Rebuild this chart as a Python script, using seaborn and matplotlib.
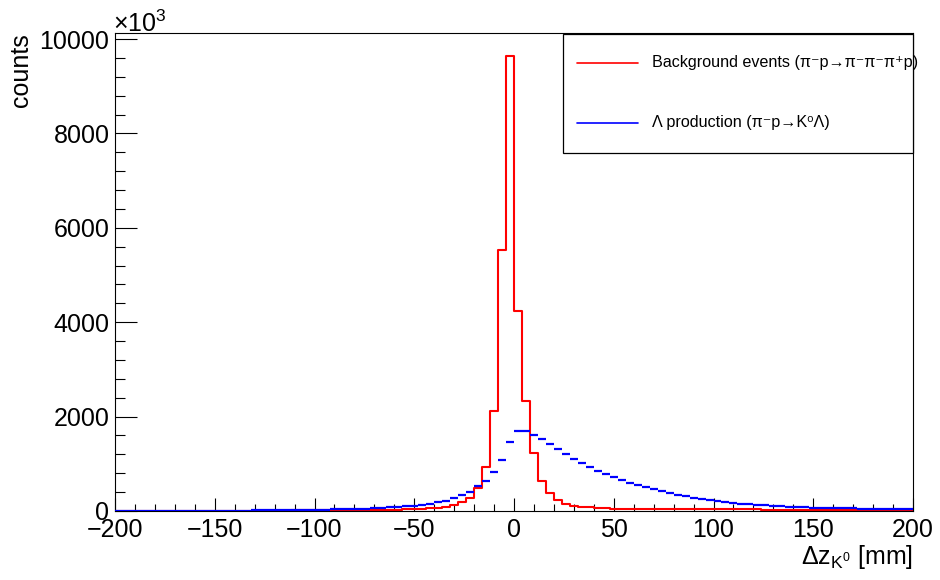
import numpy as np
import pandas as pd
import matplotlib
matplotlib.use("Agg")
import matplotlib.pyplot as plt
import seaborn as sns
from matplotlib.ticker import MultipleLocator
from matplotlib.patches import Rectangle
from matplotlib.lines import Line2D

# ---------------- data (counts in units of 10^3, 4 mm bins from -200 to 200) ----------------
x_range = (-200, 200)
n_bins = 100

background_counts = [
    3, 3, 3, 3, 4, 4, 4, 4, 5, 5, 5, 5, 6, 6, 6, 7, 7, 8, 8, 9,
    9, 10, 11, 11, 12, 13, 14, 15, 16, 17, 18, 20, 22, 24, 27, 30, 34, 40, 48, 58,
    72, 92, 127, 184, 283, 482, 941, 2123, 5527, 9646,
    4246, 2321, 1235, 645, 380, 233, 155, 115, 90, 75,
    65, 58, 52, 48, 45, 43, 41, 40, 39, 38,
    37, 36, 36, 35, 35, 34, 34, 33, 33, 32,
    32, 31, 31, 30, 30, 30, 29, 29, 29, 28,
    28, 28, 27, 27, 27, 26, 26, 26, 25, 25,
]

lambda_counts = [
    2, 2, 3, 3, 3, 4, 4, 4, 5, 5, 6, 6, 7, 7, 8, 9, 10, 11, 12, 13,
    14, 16, 18, 20, 22, 25, 28, 32, 36, 41, 46, 52, 59, 67, 76, 87, 100, 115, 132, 155,
    185, 220, 268, 340, 410, 530, 640, 821, 1083, 1458,
    1690, 1690, 1615, 1520, 1410, 1305, 1205, 1105, 1020, 935,
    855, 790, 720, 650, 600, 550, 500, 465, 425, 385,
    345, 310, 280, 250, 225, 205, 185, 170, 155, 140,
    128, 117, 107, 98, 90, 84, 78, 73, 68, 64,
    60, 57, 54, 52, 50, 48, 46, 45, 44, 43,
]

legend_labels = [
    "Background events (π⁻p→π⁻π⁻π⁺p)",
    "Λ production (π⁻p→K⁰Λ)",
]
x_label = r"$\mathregular{\Delta z_{K^{0}}}$ [mm]"
y_label = "counts"

# ---------------- style ----------------
sns.set_theme(style="ticks")
plt.rcParams["font.family"] = ["Liberation Sans", "DejaVu Sans"]
plt.rcParams["mathtext.fontset"] = "custom"
plt.rcParams["mathtext.rm"] = "Liberation Sans"
plt.rcParams["mathtext.it"] = "Liberation Sans:italic"
plt.rcParams["mathtext.bf"] = "Liberation Sans:bold"
plt.rcParams["axes.unicode_minus"] = True
for key in ["text.color", "axes.labelcolor", "xtick.color", "ytick.color", "axes.edgecolor"]:
    plt.rcParams[key] = "black"

W, H = 940, 580
fig = plt.figure(figsize=(W / 100, H / 100), dpi=100)
fig.patch.set_facecolor("white")
ax = fig.add_axes([115 / W, 69 / H, 798 / W, 478 / H])
ax.set_facecolor("white")

bin_width = (x_range[1] - x_range[0]) / n_bins
edges = np.linspace(x_range[0], x_range[1], n_bins + 1)
centers = 0.5 * (edges[:-1] + edges[1:])
df = pd.DataFrame({"dz": centers, "bkg": background_counts, "lam": lambda_counts})

sns.histplot(data=df, x="dz", weights="bkg", binwidth=bin_width, binrange=x_range,
             element="step", fill=False, color="#ff0000", linewidth=1.5, ax=ax)
ax.hlines(df["lam"], edges[:-1], edges[1:], colors="#0000ff", linewidth=1.6, zorder=3)

ax.set_xlim(*x_range)
ax.set_ylim(0, max(background_counts) * 1.05)

ax.xaxis.set_major_locator(MultipleLocator(50))
ax.xaxis.set_minor_locator(MultipleLocator(10))
ax.yaxis.set_major_locator(MultipleLocator(2000))
ax.yaxis.set_minor_locator(MultipleLocator(400))

ax.tick_params(axis="both", which="both", direction="in", top=False, right=False,
               color="black", labelcolor="black", width=0.8)
ax.tick_params(axis="x", which="major", length=9.4, pad=5, labelsize=18)
ax.tick_params(axis="x", which="minor", length=4.7)
ax.tick_params(axis="y", which="major", length=15.8, pad=4, labelsize=18)
ax.tick_params(axis="y", which="minor", length=7.5)

for sp in ax.spines.values():
    sp.set_visible(True)
    sp.set_color("black")
    sp.set_linewidth(0.8)

ax.set_xlabel(x_label, loc="right", fontsize=18, labelpad=1, color="black")
ax.set_ylabel(y_label, loc="top", fontsize=18, labelpad=5, color="black")

fig.text(113 / W, 1 - 32 / H, r"$\mathregular{\times10^{3}}$", fontsize=18,
         ha="left", va="baseline", color="black")

# ---------------- legend box (ROOT style) ----------------
fig.add_artist(Rectangle((563 / W, 1 - 153 / H), 350 / W, 119 / H,
                         transform=fig.transFigure, facecolor="white",
                         edgecolor="black", linewidth=0.9, zorder=4))
for (ypix, col, lab) in [(63, "#ff0000", legend_labels[0]), (123, "#0000ff", legend_labels[1])]:
    fig.add_artist(Line2D([577 / W, 638 / W], [1 - ypix / H] * 2, transform=fig.transFigure,
                          color=col, linewidth=1.2, zorder=5))
    fig.text(652 / W, 1 - ypix / H, lab, fontsize=11.6, ha="left", va="center",
             color="black", zorder=6)

fig.savefig("out.png", dpi=100, facecolor="white")
